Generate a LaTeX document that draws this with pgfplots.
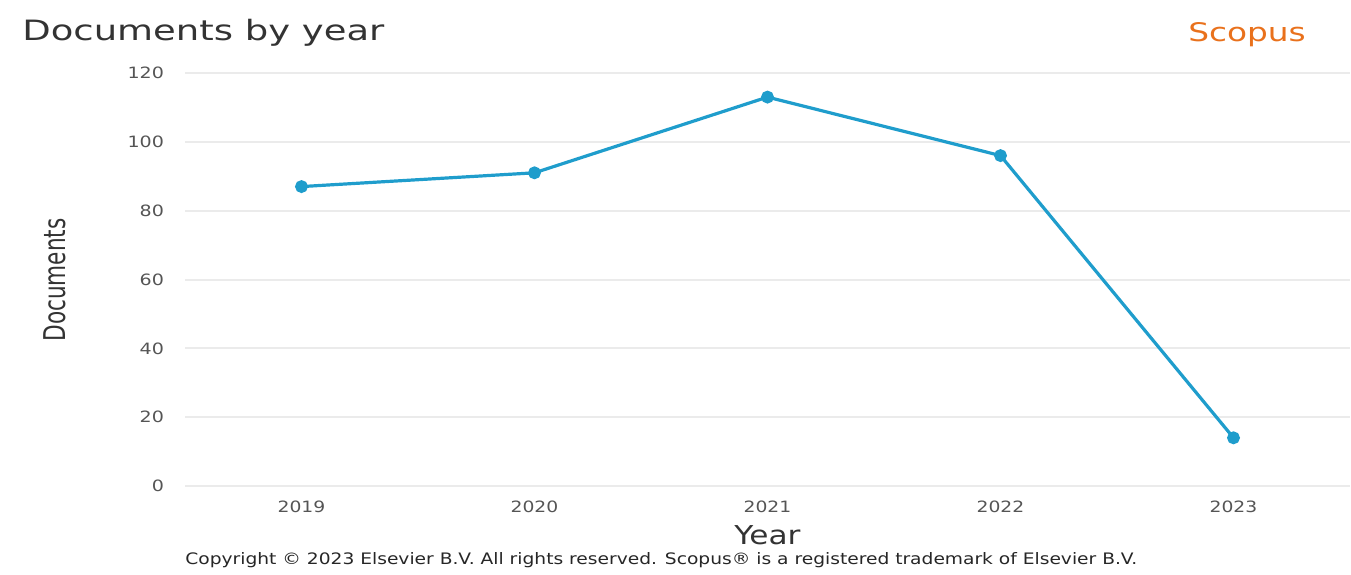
\documentclass[border=0pt]{standalone}
\usepackage{pgfplots}
\pgfplotsset{compat=1.18}
\usepackage{fontspec}
\setmainfont{DejaVu Sans}
\usepackage{graphicx}
\definecolor{lineblue}{HTML}{1F9DCC}
\definecolor{scopusorange}{HTML}{E9711C}
\definecolor{gridgray}{HTML}{EBEBEB}
\definecolor{ticktext}{HTML}{555555}
\definecolor{titletext}{HTML}{333333}
\newcommand{\wide}[2]{\scalebox{#1}[1]{#2}}

\begin{document}
\begin{tikzpicture}
\begin{axis}[
  name=ax, at={(0,0)}, anchor=south west,
  scale only axis,
  width=582.5pt, height=206.5pt,
  xmin=2018.5, xmax=2023.5,
  ymin=0, ymax=120,
  xtick={2019,2020,2021,2022,2023},
  xticklabels={\wide{1.2}{2019},\wide{1.2}{2020},\wide{1.2}{2021},\wide{1.2}{2022},\wide{1.2}{2023}},
  ytick={0,20,40,60,80,100,120},
  yticklabel={\wide{1.22}{\pgfmathprintnumber{\tick}}},
  /pgf/number format/assume math mode=true,
  axis line style={draw=none},
  tick style={draw=none},
  ymajorgrids, grid style={gridgray, line width=1pt},
  tick label style={font=\fontsize{7.8}{9}\selectfont, text=ticktext},
  yticklabel style={xshift=-7pt},
  xticklabel style={yshift=-4pt},
  xlabel={\wide{1.2}{Year}},
  xlabel style={at={(rel axis cs:0.5,0)}, anchor=center, yshift=-24.5pt,
    font=\fontsize{13}{15}\selectfont, text=titletext},
  clip=false,
]
\addplot[color=lineblue, line width=1.6pt, mark=*, mark size=2.4pt,
  mark options={fill=lineblue, draw=lineblue}]
  coordinates {(2019,87) (2020,91) (2021,113) (2022,96) (2023,14)};
\end{axis}
% y axis label
\node[rotate=90, anchor=center, font=\fontsize{15}{17}\selectfont, text=titletext]
  at (-65pt,103pt) {\wide{0.72}{Documents}};
\node[anchor=west, inner sep=0pt, font=\fontsize{14}{16}\selectfont, text=titletext]
  at (-81.5pt,226.5pt) {\wide{1.32}{Documents by year}};
\node[anchor=center, font=\fontsize{12.8}{14}\selectfont, text=scopusorange]
  at (531pt,225.5pt) {\wide{1.28}{Scopus}};
\node[anchor=west, inner sep=0pt, font=\fontsize{7.9}{9}\selectfont, text=black!85]
  at (0pt,-37pt) {\wide{1.18}{Copyright © 2023 Elsevier B.V. All rights reserved. Scopus® is a registered trademark of Elsevier B.V.}};
\pgfresetboundingbox
\useasboundingbox (-92.5pt,-44pt) rectangle (583pt,243pt);
\end{tikzpicture}
\end{document}
